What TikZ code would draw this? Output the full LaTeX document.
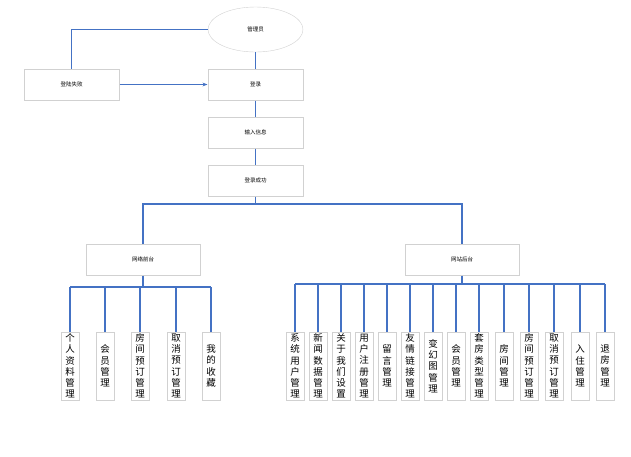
\documentclass[tikz,border=0pt]{standalone}
\usepackage{fontspec}
\setmainfont{Noto Sans CJK SC}
\usetikzlibrary{shapes.geometric,arrows.meta}
\begin{document}
\begin{tikzpicture}[x=1pt,y=-1pt,
  box/.style={draw=black!18,line width=1pt,fill=white,minimum width=95pt,minimum height=31pt,font=\fontsize{5.5}{6}\selectfont},
  wbox/.style={draw=black!18,line width=1pt,fill=white,minimum width=114pt,minimum height=31pt,font=\fontsize{5.5}{6}\selectfont},
  leaf/.style={draw=black!18,line width=1pt,fill=white,minimum width=18pt,minimum height=68pt,inner sep=0pt,font=\fontsize{9.5}{11.2}\selectfont,align=center},
  ln/.style={draw={rgb,255:red,68;green,114;blue,196},line width=1.1pt}]
\useasboundingbox (0,0) rectangle (631,456);
\node[ellipse,draw=black!18,minimum width=95pt,minimum height=45pt,inner sep=0pt,font=\fontsize{5.5}{6}\selectfont] (adm) at (255.5,29.5) {管理员};
\node[box] (fail) at (71.5,84.5) {登陆失败};
\node[box] (login) at (255.5,84.5) {登录};
\node[box] (input) at (255.5,132.5) {输入信息};
\node[box] (ok) at (255.5,180.5) {登录成功};
\node[wbox] (front) at (143,259.5) {网络前台};
\node[wbox] (back) at (462,259.5) {网站后台};
\coordinate (c1) at (71.5,29.5);
\draw[ln] (adm.west) -- (c1) -- (fail.north);
\draw[ln,-{Stealth[length=5pt]}] (fail) -- (login);
\draw[ln] (adm.south) -- (login.north);
\draw[ln] (login) -- (input);
\draw[ln] (input) -- (ok);
\coordinate (t) at (255.5,204);
\draw[ln] (ok.south) -- (t);
\draw[ln] (front.north) -- (front.north |- t) -- (back.north |- t) -- (back.north);
\foreach \n/\x/\t in {f1/70/个\\人\\资\\料\\管\\理, f2/105/会\\员\\管\\理, f3/140/房\\间\\预\\订\\管\\理, f4/176/取\\消\\预\\订\\管\\理, f5/211/我\\的\\收\\藏}{
  \node[leaf] (\n) at (\x,366) {\t};
  \draw[ln] (\n.north) -- (\x,287);
}
\draw[ln] (70,287) -- (211,287);
\draw[ln] (front.south) -- (143,287);
\foreach \n/\x/\t in {b1/295/系\\统\\用\\户\\管\\理, b2/318/新\\闻\\数\\据\\管\\理, b3/341/关\\于\\我\\们\\设\\置, b4/364/用\\户\\注\\册\\管\\理, b5/387/留\\言\\管\\理, b6/410/友\\情\\链\\接\\管\\理, b7/433/变\\幻\\图\\管\\理, b8/456/会\\员\\管\\理, b9/479/套\\房\\类\\型\\管\\理, b10/504/房\\间\\管\\理, b11/529/房\\间\\预\\订\\管\\理, b12/554/取\\消\\预\\订\\管\\理, b13/580/入\\住\\管\\理, b14/605/退\\房\\管\\理}{
  \node[leaf] (\n) at (\x,366) {\t};
  \draw[ln] (\n.north) -- (\x,284);
}
\draw[ln] (295,284) -- (605,284);
\draw[ln] (back.south) -- (462,284);
\end{tikzpicture}
\end{document}
